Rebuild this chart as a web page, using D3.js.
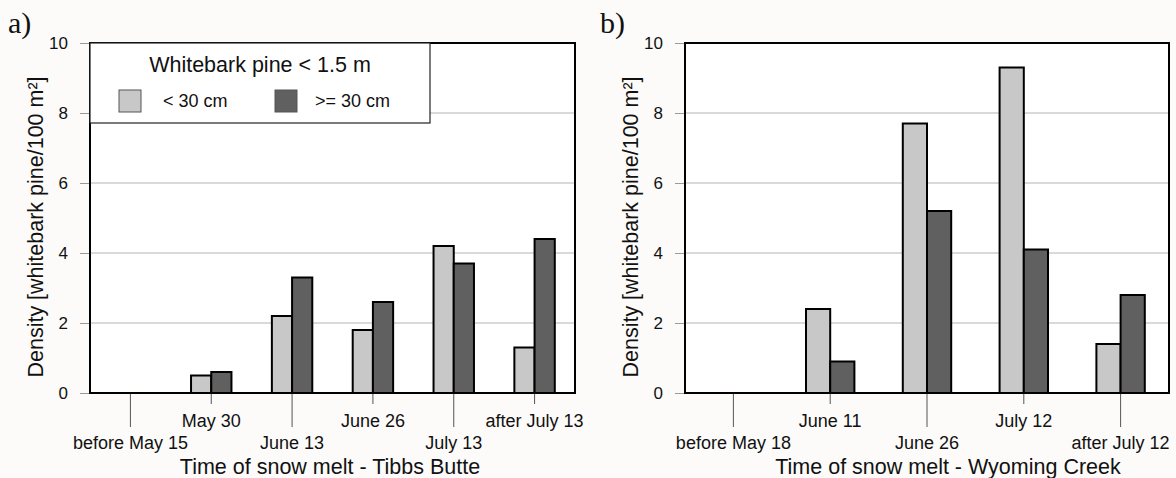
<!DOCTYPE html>
<html>
<head>
<meta charset="utf-8">
<script src="https://cdn.jsdelivr.net/npm/d3@7/dist/d3.min.js"></script>
<style>
  html, body { margin: 0; padding: 0; background: #fcfbf9; }
  svg { display: block; }
  text { font-family: "Liberation Sans", Arial, sans-serif; fill: #111; }
</style>
</head>
<body>
<svg id="chart" width="1176" height="478"></svg>
<script>
// Snow-melt timing categories for each site
const catsTibbs = ["before May 15", "May 30", "June 13", "June 26", "July 13", "after July 13"];
const catsWyoming = ["before May 18", "June 11", "June 26", "July 12", "after July 12"];

// Whitebark pine density (trees per 100 m²) by height class
const series = ["< 30 cm", ">= 30 cm"];
const tibbsSmall = [0, 0.5, 2.2, 1.8, 4.2, 1.3];
const tibbsLarge = [0, 0.6, 3.3, 2.6, 3.7, 4.4];
const wyomingSmall = [0, 2.4, 7.7, 9.3, 1.4];
const wyomingLarge = [0, 0.9, 5.2, 4.1, 2.8];

const yTicks = [0, 2, 4, 6, 8, 10];
const colors = ["#c8c8c8", "#606060"];

const svg = d3.select("#chart");

function drawPanel(opt) {
  const { x0, x1, y0, y1, cats, small, large, title, letter, letterX, yTitleX, xTitleX } = opt;
  const g = svg.append("g");

  const x = d3.scaleBand().domain(cats).range([x0, x1]).padding(0);
  const xs = d3.scaleBand().domain(series).range([0, x.bandwidth()]).paddingInner(0).paddingOuter(1);
  const y = d3.scaleLinear().domain([0, 10]).range([y1, y0]);

  // plot background
  g.append("rect").attr("x", x0).attr("y", y0).attr("width", x1 - x0).attr("height", y1 - y0)
    .attr("fill", "#fff");

  // gridlines
  g.append("g").selectAll("line").data(yTicks.filter(t => t > 0 && t < 10)).join("line")
    .attr("x1", x0).attr("x2", x1).attr("y1", d => y(d)).attr("y2", d => y(d))
    .attr("stroke", "#b4b4b4").attr("stroke-width", 1);

  // y axis
  const yAxis = g.append("g").attr("transform", `translate(${x0},0)`)
    .call(d3.axisLeft(y).tickValues(yTicks).tickSize(10).tickPadding(12).tickFormat(d3.format("d")));
  yAxis.select(".domain").remove();
  yAxis.selectAll(".tick line").attr("stroke", "#9a9a9a");
  yAxis.selectAll(".tick text").attr("font-size", 17).attr("fill", "#111")
    .attr("font-family", "Liberation Sans, Arial, sans-serif");

  // bars
  const data = cats.map((c, i) => ({ c, v: [small[i], large[i]] }));
  const groups = g.append("g").selectAll("g").data(data).join("g")
    .attr("transform", d => `translate(${x(d.c)},0)`);
  groups.selectAll("rect").data(d => d.v.map((v, k) => ({ s: series[k], v, k })).filter(e => e.v > 0))
    .join("rect")
    .attr("x", e => xs(e.s)).attr("width", xs.bandwidth())
    .attr("y", e => y(e.v)).attr("height", e => y(0) - y(e.v))
    .attr("fill", e => colors[e.k]).attr("stroke", "#000").attr("stroke-width", 2);

  // x axis with staggered tick labels
  const xAxis = g.append("g").attr("transform", `translate(0,${y1})`)
    .call(d3.axisBottom(x).tickSize(0));
  xAxis.select(".domain").remove();
  xAxis.selectAll(".tick").each(function (d, i) {
    const t = d3.select(this);
    const long = i % 2 === 0;
    t.select("line").attr("y2", long ? 34 : 11).attr("stroke", "#555").attr("stroke-width", 1);
    t.select("text").attr("y", long ? 43 : 21).attr("dy", "0.71em")
      .attr("font-size", 18).attr("fill", "#111")
      .attr("font-family", "Liberation Sans, Arial, sans-serif");
  });

  // frame
  g.append("rect").attr("x", x0).attr("y", y0).attr("width", x1 - x0).attr("height", y1 - y0)
    .attr("fill", "none").attr("stroke", "#000").attr("stroke-width", 2);

  // axis titles
  g.append("text").attr("x", xTitleX).attr("y", 474).attr("text-anchor", "middle")
    .attr("font-size", 21.5).text(title);
  g.append("text").attr("transform", `translate(${yTitleX},227) rotate(-90)`)
    .attr("text-anchor", "middle").attr("font-size", 21.5)
    .text("Density [whitebark pine/100 m²]");

  // panel letter
  g.append("text").attr("x", letterX).attr("y", 33)
    .attr("font-family", "Liberation Serif, Times New Roman, serif").style("font-family", "Liberation Serif, serif")
    .attr("font-size", 30).text(letter);

  return { x, y };
}

drawPanel({ x0: 90, x1: 575, y0: 43, y1: 393, cats: catsTibbs, small: tibbsSmall, large: tibbsLarge,
  title: "Time of snow melt - Tibbs Butte", letter: "a)", letterX: 8, yTitleX: 43, xTitleX: 330 });
drawPanel({ x0: 685, x1: 1169, y0: 43, y1: 393, cats: catsWyoming, small: wyomingSmall, large: wyomingLarge,
  title: "Time of snow melt - Wyoming Creek", letter: "b)", letterX: 600, yTitleX: 638, xTitleX: 948 });

// legend
const lg = svg.append("g");
lg.append("rect").attr("x", 90).attr("y", 43).attr("width", 340).attr("height", 80)
  .attr("fill", "#fff").attr("stroke", "#222").attr("stroke-width", 1.2);
lg.append("text").attr("x", 260).attr("y", 72).attr("text-anchor", "middle")
  .attr("font-size", 21.5).text("Whitebark pine < 1.5 m");
const items = lg.selectAll("g.item").data(series).join("g").attr("class", "item")
  .attr("transform", (d, i) => `translate(${i === 0 ? 119 : 275},90)`);
items.append("rect").attr("width", 22).attr("height", 22)
  .attr("fill", (d, i) => colors[i]).attr("stroke", "#555").attr("stroke-width", 1);
items.append("text").attr("x", (d, i) => i === 0 ? 44 : 40).attr("y", 17).attr("font-size", 18).text(d => d);
</script>
</body>
</html>
